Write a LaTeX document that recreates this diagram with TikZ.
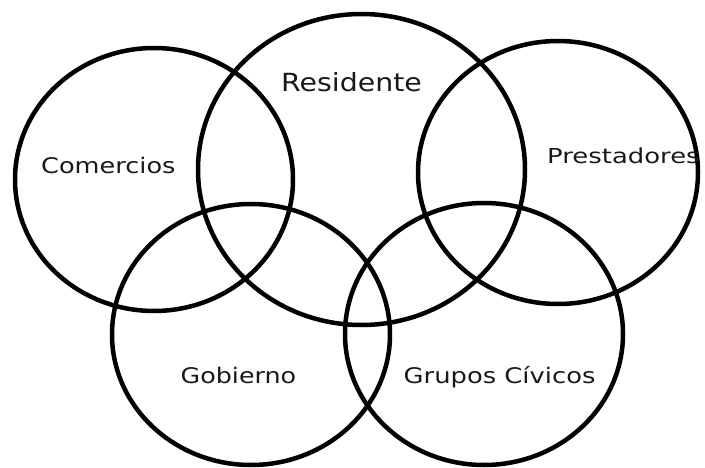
\documentclass[tikz,border=0pt]{standalone}
\usepackage{fontspec}
\setmainfont{DejaVu Sans}
\begin{document}
\begin{tikzpicture}[x=1pt,y=-1pt,
  ring/.style={draw=black,line width=4.5pt},
  lbl/.style={anchor=base west,inner sep=0pt,text=black!90}]
\useasboundingbox (0,0) rectangle (705,468);
\draw[ring] (154,179.5) ellipse [x radius=139,y radius=131.5];
\draw[ring] (361.5,169.5) ellipse [x radius=163.5,y radius=155.5];
\draw[ring] (558,172.5) ellipse [x radius=140,y radius=131.5];
\draw[ring] (251,334.5) ellipse [x radius=139,y radius=130.5];
\draw[ring] (484,334) ellipse [x radius=139,y radius=131];
\node[lbl] (com) at (41,174) {\scalebox{1.19}[1]{\fontsize{21.5}{26}\selectfont Comercios}};
\node[lbl] (res) at (281,92) {\scalebox{1.136}[1]{\fontsize{25}{30}\selectfont Residente}};
\node[lbl] (pre) at (547,164) {\scalebox{1.257}[1]{\fontsize{20.6}{25}\selectfont Prestadores}};
\node[lbl] (gob) at (180.5,383.3) {\scalebox{1.18}[1]{\fontsize{21.5}{26}\selectfont Gobierno}};
\node[lbl] (gru) at (403.5,383.3) {\scalebox{1.2}[1]{\fontsize{21.5}{26}\selectfont Grupos Cívicos}};
\end{tikzpicture}
\end{document}
